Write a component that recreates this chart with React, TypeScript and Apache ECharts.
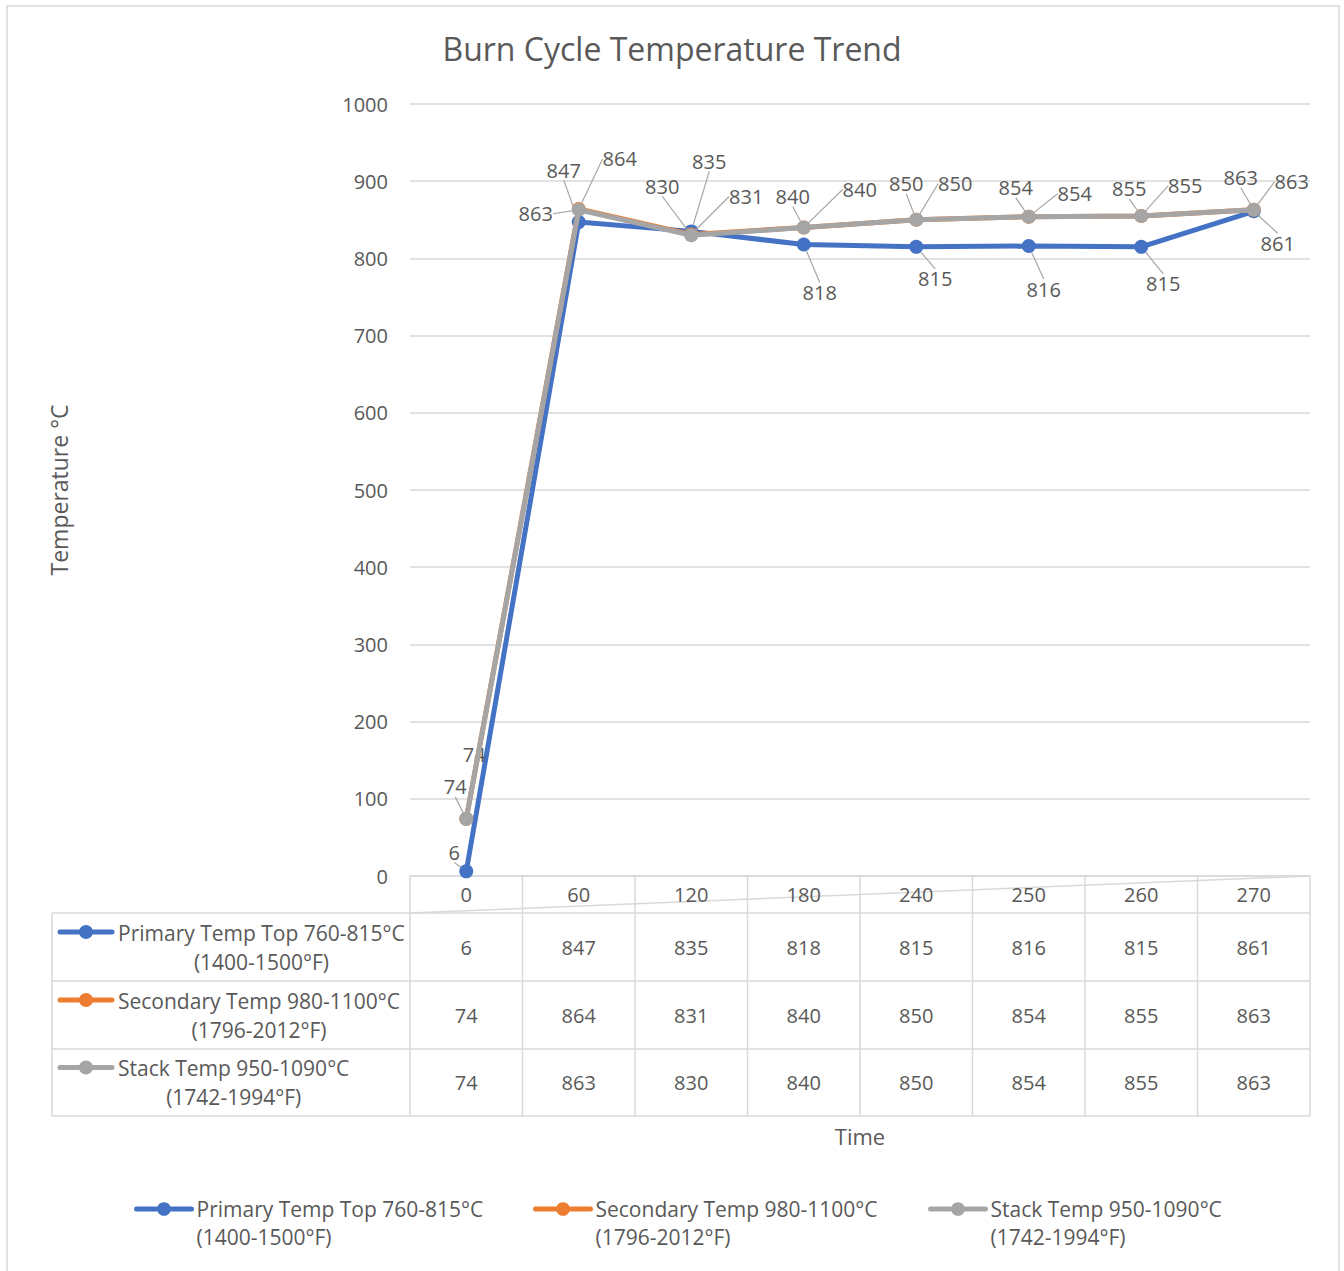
import React, { useEffect, useRef } from 'react';
import * as echarts from 'echarts';

// ---------- data ----------
const categories = ['0', '60', '120', '180', '240', '250', '260', '270'];
const primaryTemp = [6, 847, 835, 818, 815, 816, 815, 861];
const secondaryTemp = [74, 864, 831, 840, 850, 854, 855, 863];
const stackTemp = [74, 863, 830, 840, 850, 854, 855, 863];
const seriesNames = [
  'Primary Temp Top 760-815°C\n(1400-1500°F)',
  'Secondary Temp 980-1100°C\n(1796-2012°F)',
  'Stack Temp 950-1090°C\n(1742-1994°F)',
];
const chartTitle = 'Burn Cycle Temperature Trend';
const xTitle = 'Time';
const yTitle = 'Temperature °C';

// ---------- layout / style ----------
const COLORS = ['#4472C4', '#ED7D31', '#A5A5A5'];
const FONT_NAME = 'Open Sans';
const FONT = '"Open Sans", "Noto Sans", sans-serif';
const TXT = '#595959';
const GRIDC = '#d9d9d9';
const W = 1344;
const H = 1271;
const GL = 410; // plot left
const GR = 1310; // plot right
const GT = 104; // plot top
const GB = 876; // plot bottom
const TABLE_LEFT = 52;
const TABLE_TEXT_LEFT = 118;
const ROW_Y = [913, 981, 1049, 1116];
const LEGEND_X = [134, 533, 928];
const NAME_SIZE = 21;

// label offsets (dx, dy) from the point, per series / point
const LABEL_OFFSETS = [
  [[-12, -19], [-15, -52], [18, -70], [16, 48], [19, 32], [15, 43], [22, 37], [24, 32]],
  [[8, -64], [41, -50], [55, -38], [56, -38], [39, -36], [46, -23], [44, -30], [38, -28]],
  [[-11, -32], [-43, 4], [-29, -49], [-11, -31], [-10, -36], [-13, -29], [-12, -27], [-13, -32]],
];

const seriesData = [primaryTemp, secondaryTemp, stackTemp];

function measure(text: string, size: number): number {
  try {
    const c = document.createElement('canvas').getContext('2d');
    if (!c) return text.length * size * 0.55;
    c.font = `${size}px "${FONT_NAME}"`;
    return Math.max(...text.split('\n').map((l) => c.measureText(l).width));
  } catch (e) {
    return text.length * size * 0.55;
  }
}

function buildTable(): any[] {
  const els: any[] = [];
  const n = categories.length;
  const cw = (GR - GL) / n;
  const lineStyle = { stroke: GRIDC, lineWidth: 1.5 };
  ROW_Y.forEach((y) => {
    els.push({ type: 'line', shape: { x1: TABLE_LEFT, y1: y, x2: GR, y2: y }, style: lineStyle, silent: true });
  });
  els.push({ type: 'line', shape: { x1: TABLE_LEFT, y1: ROW_Y[0], x2: TABLE_LEFT, y2: ROW_Y[3] }, style: lineStyle, silent: true });
  for (let j = 0; j <= n; j++) {
    const x = GL + j * cw;
    els.push({ type: 'line', shape: { x1: x, y1: GB, x2: x, y2: ROW_Y[3] }, style: lineStyle, silent: true });
  }
  els.push({ type: 'line', shape: { x1: GL, y1: ROW_Y[0], x2: GR, y2: GB }, style: lineStyle, silent: true });
  seriesData.forEach((arr, i) => {
    const yc = (ROW_Y[i] + ROW_Y[i + 1]) / 2;
    arr.forEach((v, j) => {
      els.push({
        type: 'text',
        x: GL + (j + 0.5) * cw,
        y: yc,
        silent: true,
        style: { text: String(v), align: 'center', verticalAlign: 'middle', fill: TXT, fontSize: 20, fontFamily: FONT },
      });
    });
    const ly = yc - 15;
    els.push({ type: 'line', shape: { x1: 60, y1: ly, x2: 112, y2: ly }, style: { stroke: COLORS[i], lineWidth: 5, lineCap: 'round' }, silent: true });
    els.push({ type: 'circle', shape: { cx: 86, cy: ly, r: 7 }, style: { fill: COLORS[i] }, silent: true });
    const bw = measure(seriesNames[i], NAME_SIZE);
    els.push({
      type: 'text',
      x: TABLE_TEXT_LEFT + bw / 2,
      y: yc,
      silent: true,
      style: {
        text: seriesNames[i],
        align: 'center',
        verticalAlign: 'middle',
        fill: TXT,
        fontSize: NAME_SIZE,
        lineHeight: 29,
        fontFamily: FONT,
      },
    });
  });
  return els;
}

export default function App() {
  const ref = useRef<HTMLDivElement>(null);
  useEffect(() => {
    if (!ref.current) return;
    const chart = echarts.init(ref.current, undefined, { renderer: 'svg' });
    const option: any = {
      animation: false,
      backgroundColor: '#fff',
      textStyle: { fontFamily: FONT },
      title: {
        text: chartTitle,
        left: 'center',
        top: 32,
        padding: 0,
        textStyle: { fontSize: 32, fontWeight: 'normal', color: TXT, fontFamily: FONT },
      },
      grid: { left: GL, right: W - GR, top: GT, bottom: H - GB, containLabel: false },
      xAxis: {
        type: 'category',
        data: categories,
        boundaryGap: true,
        axisLine: { show: true, lineStyle: { color: GRIDC, width: 1.5 } },
        axisTick: { show: false },
        axisLabel: { color: TXT, fontSize: 20, fontFamily: FONT, margin: 8 },
        name: xTitle,
        nameLocation: 'middle',
        nameGap: 249,
        nameTextStyle: { color: TXT, fontSize: 22, fontFamily: FONT },
      },
      yAxis: {
        type: 'value',
        min: 0,
        max: 1000,
        interval: 100,
        axisLine: { show: false },
        axisTick: { show: false },
        axisLabel: { color: TXT, fontSize: 20, fontFamily: FONT, margin: 22, formatter: (v: number) => String(v) },
        splitLine: { lineStyle: { color: GRIDC, width: 1.5 } },
        name: yTitle,
        nameLocation: 'middle',
        nameGap: 340,
        nameTextStyle: { color: TXT, fontSize: 23, fontFamily: FONT },
      },
      legend: seriesNames.map((name, i) => ({
        data: [name],
        left: LEGEND_X[i],
        top: 1167,
        padding: 0,
        itemWidth: 55,
        itemHeight: 17,
        formatter: (n: string) => ' \n' + n,
        lineStyle: { width: 5, cap: 'round' },
        textStyle: { color: TXT, fontSize: NAME_SIZE, fontFamily: FONT, lineHeight: 28 },
      })),
      series: seriesData.map((arr, i) => ({
        type: 'line',
        name: seriesNames[i],
        data: arr,
        symbol: 'circle',
        symbolSize: 14,
        z: 2 + i,
        lineStyle: { width: 5, color: COLORS[i] },
        itemStyle: { color: COLORS[i] },
        label: {
          show: true,
          position: 'inside',
          color: TXT,
          fontSize: 20,
          fontFamily: FONT,
          textBorderWidth: 0,
        },
        labelLayout: (p: any) => {
          const o = LABEL_OFFSETS[i][p.dataIndex] || [0, -20];
          return { dx: o[0], dy: o[1] };
        },
        labelLine: { show: true, lineStyle: { color: '#a6a6a6', width: 1.2 } },
      })),
      graphic: [
        {
          type: 'rect',
          shape: { x: 7, y: 6, width: 1332, height: 1300 },
          style: { fill: 'none', stroke: GRIDC, lineWidth: 1.5 },
          silent: true,
          z: -10,
        },
        ...buildTable(),
      ],
    };
    chart.setOption(option);
    return () => chart.dispose();
  }, []);
  return (
    <div
      ref={ref}
      style={{ position: 'absolute', left: 0, top: 0, width: W, height: H, background: '#fff' }}
    />
  );
}
